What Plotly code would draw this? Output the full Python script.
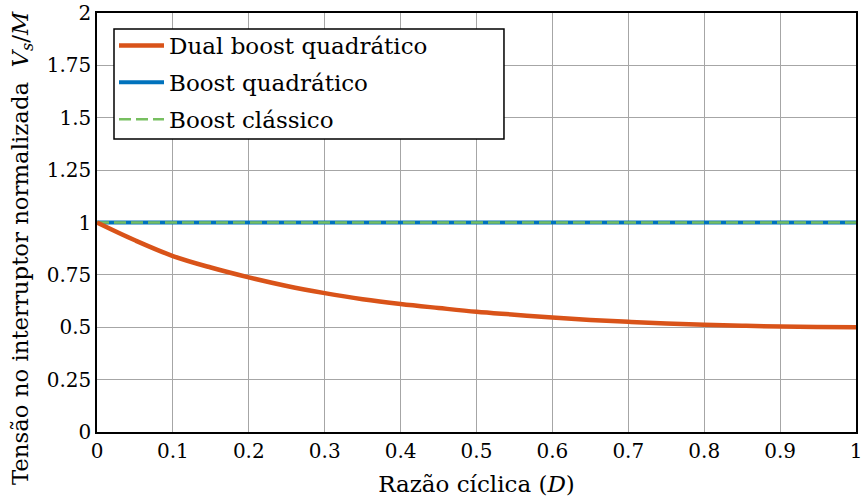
import plotly.graph_objects as go

# Duty cycle samples and normalized switch voltage for each converter
duty = [0.0, 0.05, 0.1, 0.15, 0.2, 0.25, 0.3, 0.35, 0.4, 0.45, 0.5,
        0.55, 0.6, 0.65, 0.7, 0.75, 0.8, 0.85, 0.9, 0.95, 1.0]
dual_boost_quad = [1.0, 0.915, 0.84, 0.785, 0.738, 0.697, 0.663, 0.634, 0.611, 0.592, 0.574,
                   0.56, 0.546, 0.535, 0.526, 0.518, 0.512, 0.507, 0.503, 0.501, 0.5]
boost_quad = [1.0] * len(duty)
boost_classic = [1.0] * len(duty)

x_ticks = [0, 0.1, 0.2, 0.3, 0.4, 0.5, 0.6, 0.7, 0.8, 0.9, 1]
x_labels = ["0", "0.1", "0.2", "0.3", "0.4", "0.5", "0.6", "0.7", "0.8", "0.9", "1"]
y_ticks = [0, 0.25, 0.5, 0.75, 1, 1.25, 1.5, 1.75, 2]
y_labels = ["0", "0.25", "0.5", "0.75", "1", "1.25", "1.5", "1.75", "2"]

FONT = "DejaVu Serif"
tick_font = dict(family=FONT, size=20, color="black")
xtitle_font = dict(family=FONT, size=23, color="black")
ytitle_font = dict(family=FONT, size=22.8, color="black")
legend_font = dict(family=FONT, size=23, color="black")

fig = go.Figure()
fig.add_trace(go.Scatter(x=duty, y=boost_quad, mode="lines", name="Boost quadrático",
                         legendrank=2, legendgroup="b",
                         line=dict(color="#0072BD", width=4)))
fig.add_trace(go.Scatter(x=duty, y=boost_classic, mode="lines", name="Boost clássico",
                         legendrank=3, legendgroup="c",
                         line=dict(color="#77BF60", width=2.5, dash="12px,5px")))
fig.add_trace(go.Scatter(x=duty, y=dual_boost_quad, mode="lines", name="Dual boost quadrático",
                         legendrank=1, legendgroup="a",
                         line=dict(color="#D95319", width=4.5, shape="spline")))

fig.update_layout(
    width=865, height=499,
    margin=dict(l=97, r=9, t=13, b=67),
    paper_bgcolor="white", plot_bgcolor="white",
    font=tick_font,
    showlegend=True,
    legend=dict(x=0.0224, y=0.9737, xanchor="left", yanchor="top",
                bgcolor="rgba(0,0,0,0)", borderwidth=0,
                font=legend_font, traceorder="grouped", tracegroupgap=4,
                itemwidth=45),
    # white framed box behind the legend entries
    shapes=[dict(type="rect", xref="paper", yref="paper",
                 x0=0.0224, x1=0.5362, y0=0.6993, y1=0.9618,
                 fillcolor="white", line=dict(color="black", width=1.5),
                 layer="above")],
    annotations=[dict(text="Tensão no interruptor normalizada  <i>V</i><sub><i>s</i></sub>/<i>M</i>",
                      xref="paper", yref="paper", x=-0.0988, y=0.439,
                      xanchor="center", yanchor="middle", textangle=-90,
                      showarrow=False, font=ytitle_font)],
)
fig.update_xaxes(range=[0, 1], tickvals=x_ticks, ticktext=x_labels, tickfont=tick_font,
                 showgrid=True, gridcolor="#a6a6a6", gridwidth=1,
                 showline=True, linecolor="black", linewidth=1.5, mirror=True,
                 ticks="", zeroline=False, automargin=False,
                 title=dict(text="Razão cíclica (<i>D</i>)", standoff=14, font=xtitle_font))
fig.update_yaxes(range=[0, 2], tickvals=y_ticks, ticktext=y_labels, tickfont=tick_font,
                 showgrid=True, gridcolor="#a6a6a6", gridwidth=1,
                 showline=True, linecolor="black", linewidth=1.5, mirror=True,
                 ticks="", zeroline=False, automargin=False)

fig.write_html("out.html")
